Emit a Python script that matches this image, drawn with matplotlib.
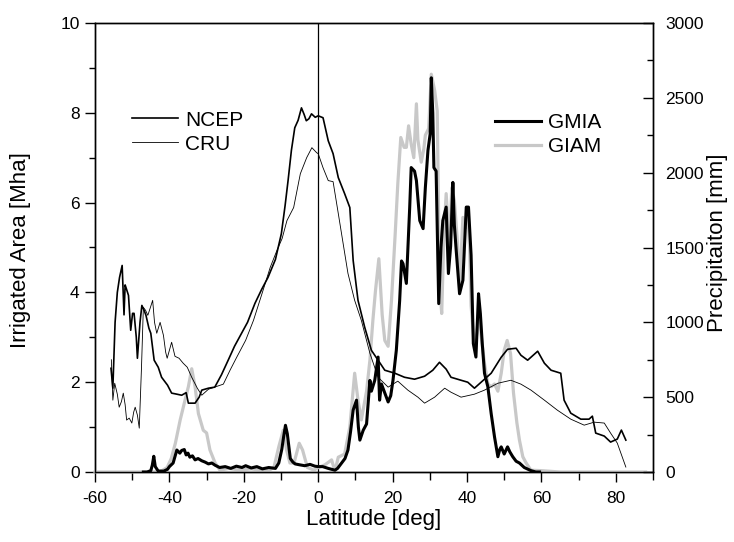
import matplotlib
matplotlib.use("Agg")
import matplotlib.pyplot as plt
from matplotlib.ticker import MultipleLocator

plt.rcParams['font.family'] = ['Liberation Sans', 'DejaVu Sans']
plt.rcParams['axes.unicode_minus'] = False

# ---- GMIA irrigated area [Mha] ----
gmia_lat = [-47, -46, -45.0, -44.6, -44.2, -43.8, -43.0, -41.5, -40.5, -40.0,
            -39.0, -38.0, -37.2, -36.7, -36.0, -35.5, -35.0, -34.5, -33.8, -33.1,
            -32.3, -31.3, -30.4, -29.5, -28.6, -27.7, -26.5, -25.0, -23.5, -22.0,
            -20.5, -19.5, -18.0, -16.5, -15.0, -13.3, -11.5, -10.6, -9.8, -9.3,
            -8.8, -8.3, -7.5, -6.8, -6.2, -5.0, -3.6, -2.2, -0.9, 0.0,
            1.2, 2.7, 4.5, 5.2, 6.3, 7.2, 8.0, 8.7, 9.4, 10.3,
            10.8, 11.2, 12.1, 13.0, 13.5, 13.9, 14.3, 15.2, 16.1, 16.5,
            17.0, 17.9, 18.8, 19.5, 20.1, 21.0, 21.9, 22.4, 22.8, 23.7,
            24.6, 25.0, 25.9, 26.4, 27.3, 28.2, 28.8, 29.5, 30.1, 30.4,
            30.8, 31.1, 31.7, 32.4, 33.0, 33.5, 34.4, 35.0, 35.6, 36.2,
            36.6, 37.1, 38.0, 38.9, 39.8, 40.4, 41.1, 41.7, 42.4, 43.1,
            43.6, 44.1, 44.7, 45.6, 46.5, 47.4, 48.3, 48.8, 49.2, 50.0,
            50.9, 51.5, 52.3, 53.2, 54.1, 55.4, 57.2, 58.5, 59.5]
gmia_val = [0, 0, 0.03, 0.15, 0.35, 0.12, 0.02, 0.02, 0.06, 0.12,
            0.2, 0.49, 0.42, 0.48, 0.5, 0.38, 0.42, 0.33, 0.36, 0.27,
            0.3, 0.25, 0.22, 0.18, 0.2, 0.15, 0.1, 0.12, 0.08, 0.13,
            0.1, 0.14, 0.09, 0.12, 0.07, 0.1, 0.08, 0.2, 0.5, 0.78,
            1.04, 0.85, 0.3, 0.22, 0.18, 0.16, 0.14, 0.17, 0.13, 0.12,
            0.12, 0.08, 0.04, 0.08, 0.2, 0.3, 0.49, 0.9, 1.38, 1.6,
            1.0, 0.71, 0.93, 1.07, 1.6, 2.04, 1.8, 2.04, 2.56, 1.6,
            1.96, 1.76, 1.56, 1.7, 2.04, 2.71, 3.82, 4.7, 4.64, 4.2,
            5.9, 6.78, 6.7, 6.49, 5.6, 5.42, 6.33, 7.16, 7.53, 8.78,
            8.0, 6.78, 6.7, 3.75, 5.0, 5.6, 5.9, 4.42, 5.03, 6.45,
            5.5, 4.93, 3.97, 4.27, 5.9, 5.9, 4.83, 2.86, 2.56, 3.97,
            3.52, 2.86, 2.2, 1.9, 1.3, 0.78, 0.34, 0.5, 0.56, 0.4,
            0.56, 0.45, 0.34, 0.24, 0.2, 0.1, 0.03, 0.0, 0.0]

# ---- GIAM irrigated area [Mha] ----
giam_lat = [-60, -44, -42, -40.6, -39.5, -38.4, -37.1, -35.8, -34.9, -34.0,
            -33.1, -32.2, -30.9, -30.0, -29.1, -27.7, -26.4, -24, -21, -18,
            -15, -13, -11.9, -10.6, -9.4, -8.5, -7.6, -6.5, -5.1, -4.2,
            -2.9, -1.1, 0.0, 1.8, 3.6, 4.5, 5.4, 7.1, 8.5, 9.8,
            10.7, 11.6, 13.0, 13.9, 14.7, 15.4, 16.3, 17.2, 17.9, 18.8,
            19.7, 20.7, 21.4, 22.2, 23.1, 23.7, 24.3, 25.0, 25.7, 26.4,
            26.8, 27.7, 28.4, 28.8, 29.7, 30.4, 31.3, 32.0, 32.6, 33.2,
            33.8, 34.4, 35.3, 35.9, 36.6, 37.4, 38.0, 38.9, 39.8, 40.2,
            40.7, 41.1, 42.0, 42.7, 43.3, 43.8, 44.7, 45.6, 46.5, 47.4,
            48.3, 49.2, 50.0, 50.8, 51.7, 52.5, 53.4, 54.1, 55.0, 55.9,
            57.2, 60, 65, 88]
giam_val = [0, 0, 0.03, 0.1, 0.3, 0.64, 1.16, 1.6, 1.9, 2.3,
            1.9, 1.3, 0.93, 0.87, 0.49, 0.2, 0.04, 0.08, 0.04, 0.07,
            0.03, 0.05, 0.1, 0.56, 0.93, 0.49, 0.2, 0.2, 0.64, 0.49,
            0.1, 0.04, 0.1, 0.16, 0.27, 0.02, 0.33, 0.4, 1.0, 2.2,
            1.6, 1.16, 1.8, 2.49, 3.38, 4.04, 4.75, 3.5, 2.93, 2.8,
            3.82, 5.31, 6.42, 7.45, 7.23, 7.23, 7.71, 7.3, 7.0, 8.2,
            7.4, 6.9, 7.2, 7.5, 7.65, 8.86, 8.5, 8.04, 4.2, 3.53,
            5.3, 6.2, 5.0, 6.33, 6.05, 5.16, 4.12, 5.67, 5.45, 5.7,
            5.0, 3.7, 2.8, 3.1, 3.7, 3.04, 2.42, 1.96, 1.9, 1.96,
            1.8, 2.2, 2.71, 2.93, 2.64, 1.76, 1.1, 0.71, 0.34, 0.2,
            0.04, 0.03, 0.0, 0.0]

# ---- NCEP precipitation [mm] ----
ncep_lat = [-55.7, -55.2, -54.6, -54.0, -53.4, -52.7, -52.2, -51.9, -51.6, -51.0,
            -50.4, -49.9, -49.5, -48.9, -48.6, -47.9, -47.4, -46.8, -46.3, -45.5,
            -45.0, -44.1, -43.0, -42.1, -40.5, -39.4, -38.0, -36.7, -35.5, -34.9,
            -33.1, -32.0, -31.3, -29.5, -27.8, -26, -24.2, -22.5, -20.6, -19,
            -17.0, -15.2, -13.5, -11.5, -9.9, -8.9, -8.1, -7.2, -6.3, -5.4,
            -4.5, -3.8, -3.2, -2.5, -1.8, -0.8, 0.0, 1.3, 2.7, 4.0,
            5.4, 7.1, 8.5, 9.4, 10.7, 12.5, 14.3, 16.1, 17.9, 20.6,
            23.2, 25.9, 28.6, 30.8, 32.6, 34.4, 35.7, 38.4, 40.2, 42.0,
            43.8, 46.5, 49.2, 50.9, 53.2, 54.5, 56.3, 59.0, 60.8, 62.6,
            65.2, 66.1, 67.9, 70.6, 72.8, 73.7, 74.6, 76.9, 78.6, 80.4,
            81.5, 82.7]
ncep_val = [693, 560, 1000, 1200, 1300, 1380, 1050, 1250, 1227, 1180,
            947, 1060, 1060, 900, 760, 1000, 1113, 1080, 1047, 960,
            927, 747, 700, 633, 580, 527, 520, 513, 530, 460,
            460, 500, 547, 560, 567, 650, 747, 840, 927, 1000,
            1127, 1220, 1300, 1420, 1593, 1780, 1947, 2150, 2300, 2350,
            2433, 2390, 2347, 2360, 2393, 2370, 2380, 2367, 2213, 2127,
            1967, 1860, 1767, 1413, 1147, 967, 813, 747, 680, 660,
            633, 620, 640, 680, 733, 687, 633, 613, 600, 560,
            600, 660, 767, 820, 827, 780, 747, 807, 727, 680,
            660, 480, 393, 353, 353, 373, 260, 240, 200, 220,
            280, 213]

# ---- CRU precipitation [mm] ----
cru_lat = [-55.6, -55.2, -54.7, -54.0, -53.5, -52.9, -52.4, -51.9, -51.5, -50.8,
           -50.1, -49.6, -49.2, -48.6, -48.1, -47.5, -47.0, -46.4, -45.8, -45.1,
           -44.5, -44.0, -43.4, -42.5, -41.6, -41.0, -40.6, -39.4, -38.5, -37.4,
           -36.3, -35.2, -34.0, -32.5, -31.3, -29.5, -27.5, -25.5, -23.7, -21.9,
           -19.5, -17.4, -15, -12.9, -11.1, -9.7, -8.4, -6.6, -4.8, -3.1,
           -1.7, -0.4, 0.0, 1.3, 2.7, 4.0, 5.4, 6.7, 8.0, 9.8,
           11.6, 13.9, 16.1, 18.8, 21.4, 24.1, 26.8, 28.6, 31.3, 34.0,
           35.7, 38.4, 42.0, 44.7, 48.3, 51.8, 54.5, 57.2, 60.8, 64.3,
           67.9, 71.5, 74.2, 76.9, 78.6, 80.4, 82.7]
cru_val = [750, 480, 593, 520, 433, 470, 527, 450, 347, 360,
           327, 400, 433, 380, 293, 700, 1100, 1080, 1047, 1100,
           1147, 1000, 927, 1000, 913, 800, 760, 867, 773, 760,
           727, 700, 633, 560, 513, 553, 570, 587, 680, 767,
           880, 1013, 1200, 1367, 1480, 1560, 1680, 1767, 1993, 2100,
           2167, 2133, 2127, 2033, 1947, 1940, 1727, 1527, 1327, 1147,
           1013, 793, 633, 567, 607, 547, 500, 460, 500, 560,
           533, 500, 520, 547, 593, 613, 587, 547, 480, 413,
           353, 313, 333, 327, 260, 193, 33]

W, H = 734, 542
fig = plt.figure(figsize=(W / 100, H / 100), dpi=100)
ax = fig.add_axes([95 / W, 1 - 472 / H, (653 - 95) / W, (472 - 23) / H])
ax2 = ax.twinx()

l_giam, = ax.plot(giam_lat, giam_val, color='#c8c8c8', lw=2.3, label='GIAM',
                  zorder=2.6, clip_on=False)
l_gmia, = ax.plot(gmia_lat, gmia_val, color='black', lw=2.2, label='GMIA', zorder=3)
ax.axvline(0, color='black', lw=0.9, zorder=1)

l_ncep, = ax2.plot(ncep_lat, ncep_val, color='black', lw=1.2, label='NCEP')
l_cru, = ax2.plot(cru_lat, cru_val, color='black', lw=0.6, label='CRU')

ax.set_xlim(-60, 90)
ax.set_ylim(0, 10)
ax2.set_ylim(0, 3000)

ax.xaxis.set_major_locator(MultipleLocator(20))
ax.xaxis.set_minor_locator(MultipleLocator(10))
ax.yaxis.set_major_locator(MultipleLocator(2))
ax.yaxis.set_minor_locator(MultipleLocator(1))
ax2.yaxis.set_major_locator(MultipleLocator(500))
ax2.yaxis.set_minor_locator(MultipleLocator(250))

ax.tick_params(axis='both', which='major', direction='out', length=7, width=1.0, labelsize=12.5)
ax.tick_params(axis='both', which='minor', direction='out', length=4, width=1.0)
ax.tick_params(axis='x', which='minor', length=6)
ax.tick_params(axis='x', pad=7)
ax.tick_params(axis='y', pad=4)
ax2.tick_params(axis='y', which='major', direction='in', length=7, width=1.0, labelsize=12.5, pad=9)
ax2.tick_params(axis='y', which='minor', direction='in', length=4, width=1.0)

for a in (ax, ax2):
    for s in a.spines.values():
        s.set_linewidth(1.0)

fig.text(374 / W, 1 - 520 / H, 'Latitude [deg]', fontsize=16, ha='center', va='center')
fig.text(21 / W, 1 - 250 / H, 'Irrigated Area [Mha]', fontsize=16, ha='center', va='center',
         rotation=90)
fig.text(718 / W, 1 - 243 / H, 'Precipitaiton [mm]', fontsize=16, ha='center', va='center',
         rotation=90)

leg1 = ax2.legend(handles=[l_ncep, l_cru], loc='upper left', bbox_to_anchor=(0.066, 0.805),
                  frameon=False, fontsize=15, handlelength=2.2, handletextpad=0.35,
                  labelspacing=0.25, borderaxespad=0, borderpad=0)
ax2.add_artist(leg1)
ax2.legend(handles=[l_gmia, l_giam], loc='upper left', bbox_to_anchor=(0.717, 0.80),
           frameon=False, fontsize=15, handlelength=2.2, handletextpad=0.35,
           labelspacing=0.25, borderaxespad=0, borderpad=0)

fig.savefig('out.png', dpi=100)
